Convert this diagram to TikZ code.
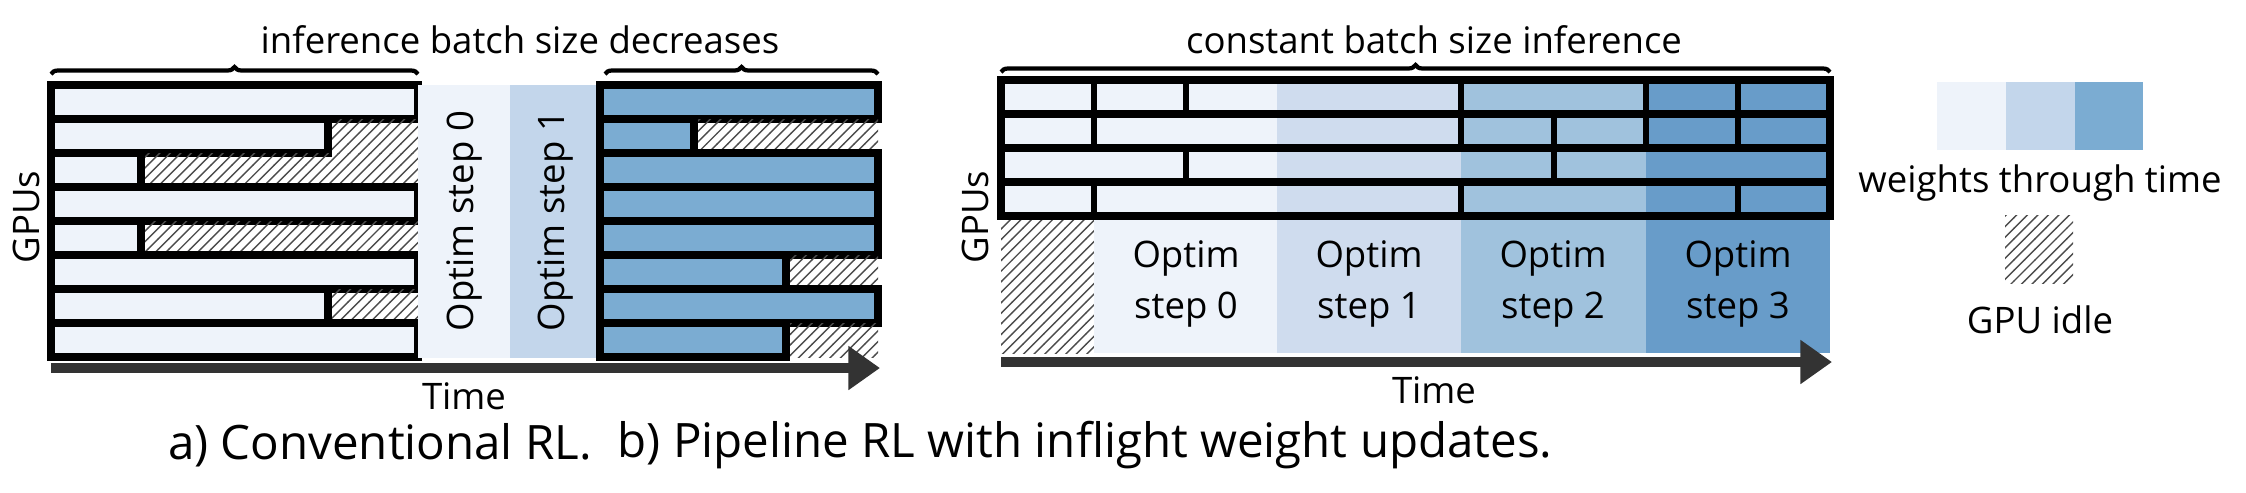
\documentclass[tikz,border=0pt]{standalone}
\usepackage{fontspec}
\setmainfont{Open Sans}
\usetikzlibrary{patterns,decorations.pathreplacing,arrows.meta}
\definecolor{wzero}{HTML}{EEF3FA}
\definecolor{wone}{HTML}{C3D6EB}
\definecolor{wtwo}{HTML}{7BACD2}
\definecolor{pone}{HTML}{CFDCEE}
\definecolor{ptwo}{HTML}{A0C2DD}
\definecolor{pthree}{HTML}{689CC9}
\tikzset{
  bar/.style={draw=black, line width=2.2pt},
  idle/.style={pattern=north east lines, pattern color=black!70},
  lbl/.style={font=\fontsize{10.4}{12.5}\selectfont},
  caption/.style={font=\fontsize{13.5}{16}\selectfont},
  timeline/.style={line width=3pt, black!80, -{Triangle[length=9pt,width=12pt]}},
  brc/.style={decorate, decoration={brace, amplitude=2pt}, line width=1.2pt}
}
\begin{document}
\begin{tikzpicture}[x=0.1mm,y=-0.1mm]
\useasboundingbox (0,0) rectangle (2246,492);

% a) conventional
\foreach \w [count=\i] in {367,277,90,367,90,367,277,367} {
  \pgfmathsetmacro{\yt}{85+34*(\i-1)}
  \fill[idle] (51,\yt) rectangle (418,\yt+34);
  \fill[wzero] (51,\yt) rectangle (51+\w,\yt+34);
  \draw[bar] (51,\yt) rectangle (51+\w,\yt+34);
}
\fill[wzero] (418,85) rectangle (510,358);
\fill[wone] (510,85) rectangle (600,358);
\node[lbl, rotate=90] (opt0) at (464,221) {Optim step 0};
\node[lbl, rotate=90] (opt1) at (555,221) {Optim step 1};
\foreach \w [count=\i] in {278,94,278,278,278,186,278,186} {
  \pgfmathsetmacro{\yt}{85+34*(\i-1)}
  \fill[idle] (600,\yt) rectangle (878,\yt+34);
  \fill[wtwo] (600,\yt) rectangle (600+\w,\yt+34);
  \draw[bar] (600,\yt) rectangle (600+\w,\yt+34);
}
\draw[brc] (51,74) -- (418,74);
\draw[brc] (605,74) -- (878,74);
\node[lbl] (titlea) at (520,40) {inference batch size decreases};
\node[lbl, rotate=90] (gpua) at (26,217) {GPUs};
\coordinate (ta0) at (51,368);
\coordinate (ta1) at (880,368);
\draw[timeline] (ta0) -- (ta1);
\node[lbl] (timea) at (464,396) {Time};
\node[caption] (capa) at (380,445) {a) Conventional RL.};

% b) pipeline
\fill[idle] (1001,216) rectangle (1094,353);
\fill[wzero] (1001,80) rectangle (1094,216);
\fill[wzero] (1094,80) rectangle (1277,353);
\fill[pone] (1277,80) rectangle (1461,353);
\fill[ptwo] (1461,80) rectangle (1646,353);
\fill[pthree] (1646,80) rectangle (1830,353);
\foreach \i/\cuts in {1/{1094,1186,1461,1646,1738}, 2/{1094,1461,1554,1646,1738}, 3/{1186,1554}, 4/{1094,1461,1738}} {
  \pgfmathsetmacro{\yt}{80+34*(\i-1)}
  \draw[bar] (1001,\yt) rectangle (1830,\yt+34);
  \foreach \c in \cuts { \draw[line width=1.6pt] (\c,\yt) -- (\c,\yt+34); }
}
\foreach \x/\s in {1186/0,1369/1,1553/2,1738/3}
  \node[lbl, align=center] (step\s) at (\x,284) {Optim\\[2pt]step \s};
\draw[brc] (1001,72) -- (1830,72);
\node[lbl] (titleb) at (1434,40) {constant batch size inference};
\node[lbl, rotate=90] (gpub) at (975,217) {GPUs};
\coordinate (tb0) at (1001,362);
\coordinate (tb1) at (1832,362);
\draw[timeline] (tb0) -- (tb1);
\node[lbl] (timeb) at (1434,390) {Time};
\node[caption] (capb) at (1085,445) {b) Pipeline RL with inflight weight updates.};

% legend
\fill[wzero] (1937,82) rectangle (2006,150);
\fill[wone] (2006,82) rectangle (2075,150);
\fill[wtwo] (2075,82) rectangle (2143,150);
\node[lbl] (wlbl) at (2040,183) {weights through time};
\fill[idle] (2005,215) rectangle (2073,283);
\node[lbl] (ilbl) at (2040,320) {GPU idle};
\end{tikzpicture}
\end{document}
